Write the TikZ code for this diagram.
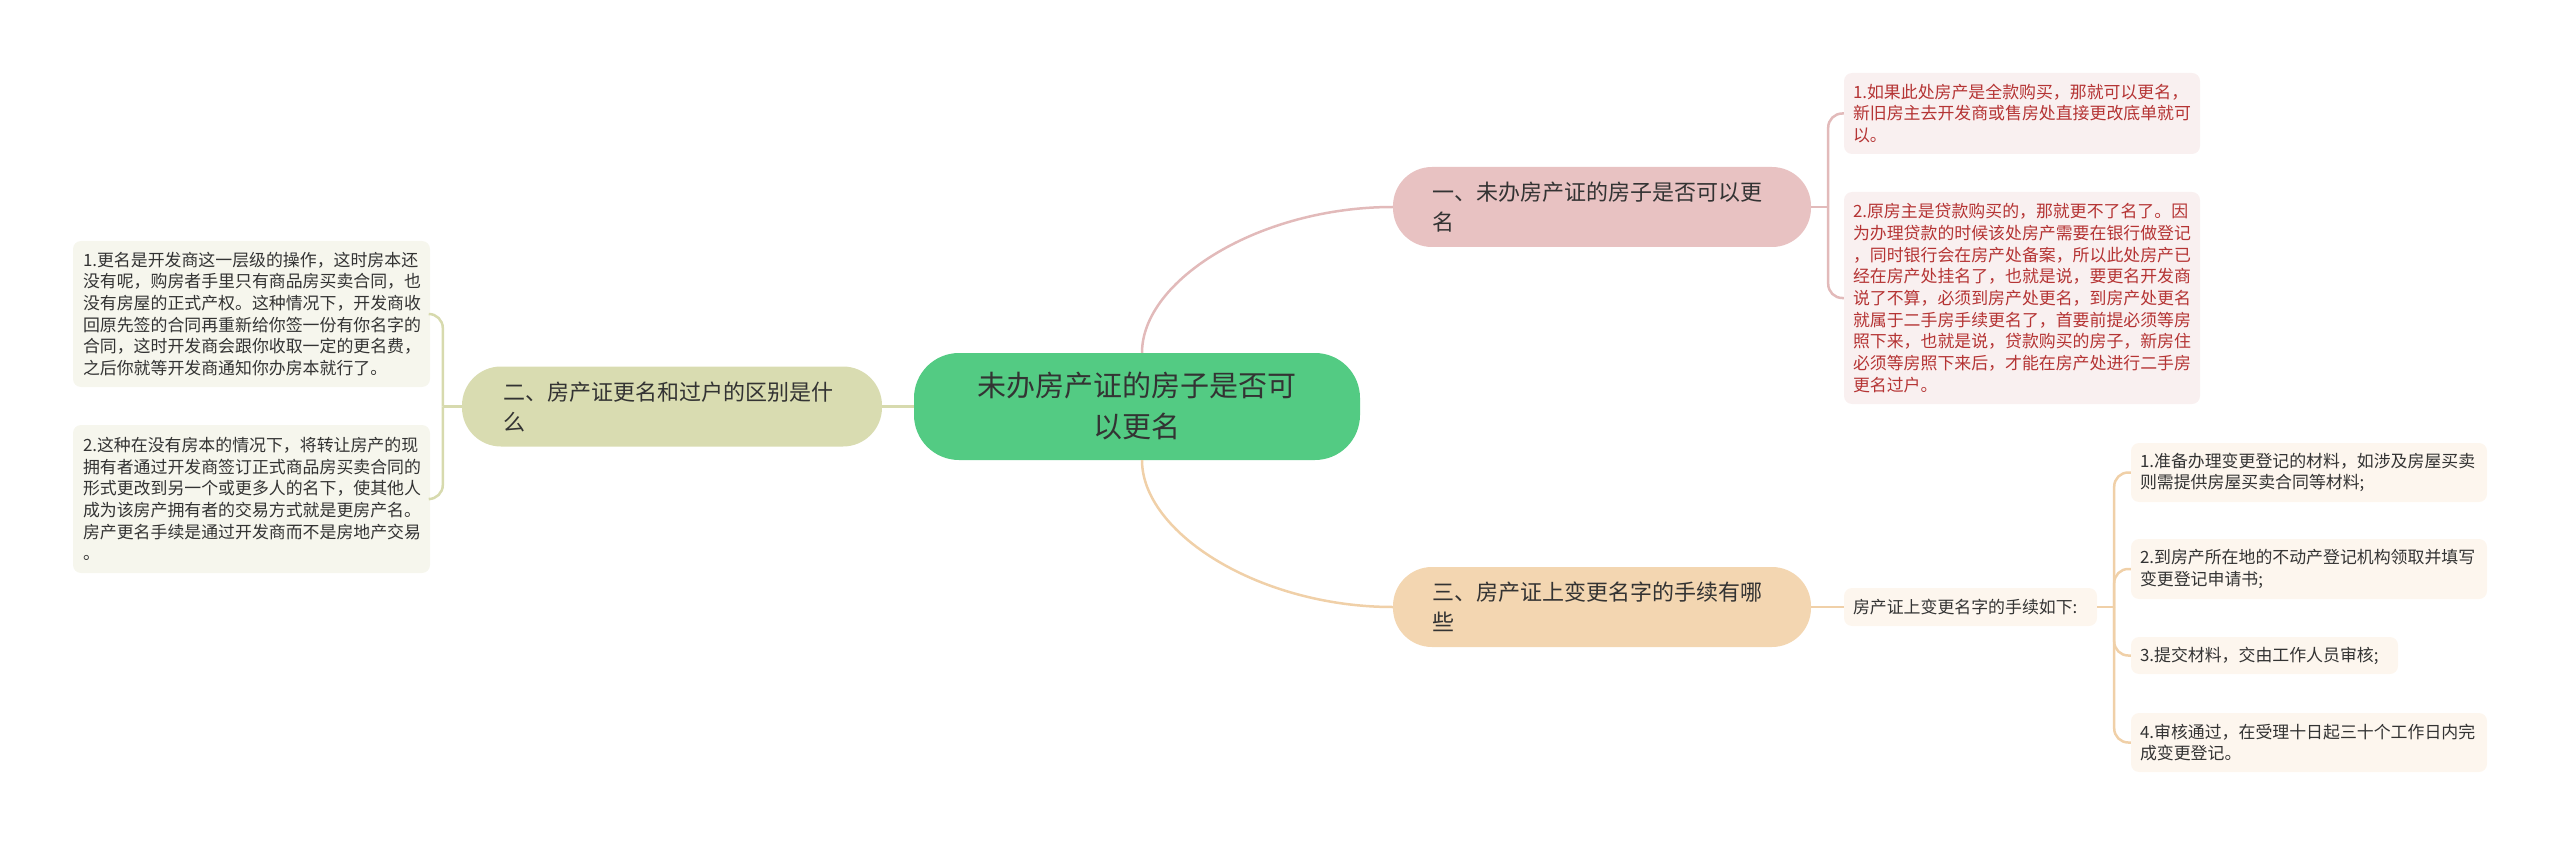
\documentclass[tikz,border=0pt]{standalone}
\usepackage{fontspec}
\newfontfamily\cjk{Noto Sans CJK SC}
\usetikzlibrary{calc}
\definecolor{cgreen}{RGB}{83,203,131}
\definecolor{bonefill}{RGB}{232,194,194}
\definecolor{boneline}{RGB}{226,186,186}
\definecolor{btwofill}{RGB}{217,220,177}
\definecolor{btwoline}{RGB}{215,218,174}
\definecolor{bthreefill}{RGB}{243,214,177}
\definecolor{bthreeline}{RGB}{240,208,168}
\definecolor{lonefill}{RGB}{249,240,240}
\definecolor{lonetext}{RGB}{181,52,52}
\definecolor{ltwofill}{RGB}{246,246,237}
\definecolor{lthreefill}{RGB}{253,246,238}
\definecolor{tdark}{RGB}{51,51,51}
\tikzset{
  central/.style={rectangle, rounded corners=45pt, fill=cgreen, text=tdark, align=center,
    minimum width=446pt, minimum height=107pt, inner sep=0pt,
    font=\cjk\fontsize{29}{41}\selectfont},
  branch/.style={rectangle, rounded corners=39pt, text=tdark, align=left,
    minimum width=418pt, minimum height=80pt, inner xsep=39pt, inner ysep=0pt, text width=340pt,
    font=\cjk\fontsize{22}{30}\selectfont},
  leaf/.style={rectangle, rounded corners=8pt, align=left, inner xsep=9pt, inner ysep=0pt,
    font=\cjk\fontsize{16.9}{21.7}\selectfont},
  conn/.style={line width=2.5pt},
}
\begin{document}
\begin{tikzpicture}[x=1pt,y=-1pt]
\useasboundingbox (0,0) rectangle (2560,845);

% central
\node[central] (c) at (1137,406.5) {未办房产证的房子是否可\\以更名};

% branches
\node[branch, fill=bonefill] (b1) at (1602,207) {一、未办房产证的房子是否可以更\\名};
\node[branch, fill=btwofill, minimum width=420pt, inner xsep=41pt, text width=338pt] (b2) at (672,406.5) {二、房产证更名和过户的区别是什\\么};
\node[branch, fill=bthreefill] (b3) at (1602,607) {三、房产证上变更名字的手续有哪\\些};

% leaves of branch 1
\node[leaf, fill=lonefill, text=lonetext, minimum width=356pt, minimum height=81pt, text width=338pt] (l11) at (2022,113.5)
  {1.如果此处房产是全款购买，那就可以更名，\\新旧房主去开发商或售房处直接更改底单就可\\以。};
\node[leaf, fill=lonefill, text=lonetext, minimum width=356pt, minimum height=212pt, text width=338pt] (l12) at (2022,298)
  {2.原房主是贷款购买的，那就更不了名了。因\\为办理贷款的时候该处房产需要在银行做登记\\，同时银行会在房产处备案，所以此处房产已\\经在房产处挂名了，也就是说，要更名开发商\\说了不算，必须到房产处更名，到房产处更名\\就属于二手房手续更名了，首要前提必须等房\\照下来，也就是说，贷款购买的房子，新房住\\必须等房照下来后，才能在房产处进行二手房\\更名过户。};

% leaves of branch 2
\node[leaf, fill=ltwofill, text=tdark, minimum width=357pt, minimum height=146pt, inner xsep=10pt, text width=337pt] (l21) at (251.5,314)
  {1.更名是开发商这一层级的操作，这时房本还\\没有呢，购房者手里只有商品房买卖合同，也\\没有房屋的正式产权。这种情况下，开发商收\\回原先签的合同再重新给你签一份有你名字的\\合同，这时开发商会跟你收取一定的更名费，\\之后你就等开发商通知你办房本就行了。};
\node[leaf, fill=ltwofill, text=tdark, minimum width=357pt, minimum height=148pt, inner xsep=10pt, text width=337pt] (l22) at (251.5,499)
  {2.这种在没有房本的情况下，将转让房产的现\\拥有者通过开发商签订正式商品房买卖合同的\\形式更改到另一个或更多人的名下，使其他人\\成为该房产拥有者的交易方式就是更房产名。\\房产更名手续是通过开发商而不是房地产交易\\。};

% branch 3 intermediate and leaves
\node[leaf, fill=lthreefill, text=tdark, minimum width=253pt, minimum height=38pt, text width=235pt] (m3) at (1970.5,607)
  {房产证上变更名字的手续如下:};
\node[leaf, fill=lthreefill, text=tdark, minimum width=356pt, minimum height=59pt, text width=338pt] (l31) at (2309,472.5)
  {1.准备办理变更登记的材料，如涉及房屋买卖\\则需提供房屋买卖合同等材料;};
\node[leaf, fill=lthreefill, text=tdark, minimum width=356pt, minimum height=60pt, text width=338pt] (l32) at (2309,569)
  {2.到房产所在地的不动产登记机构领取并填写\\变更登记申请书;};
\node[leaf, fill=lthreefill, text=tdark, minimum width=267pt, minimum height=37pt, text width=249pt] (l33) at (2264.5,655.5)
  {3.提交材料，交由工作人员审核;};
\node[leaf, fill=lthreefill, text=tdark, minimum width=356pt, minimum height=59pt, text width=338pt] (l34) at (2309,742.5)
  {4.审核通过，在受理十日起三十个工作日内完\\成变更登记。};

% connectors from central
\draw[conn, boneline] ([xshift=5pt]c.north) .. controls +(0,-73) and +(-133,0) .. (b1.west);
\draw[conn, bthreeline] ([xshift=5pt]c.south) .. controls +(0,73) and +(-133,0) .. (b3.west);
\draw[conn, btwoline] (c.west) -- (b2.east);

% branch 1 bracket
\coordinate (k1) at ($(b1.east)+(17,0)$);
\draw[conn, boneline] (b1.east) -- (k1);
\draw[conn, boneline, rounded corners=14pt] (k1) |- (l11.west);
\draw[conn, boneline, rounded corners=14pt] (k1) |- (l12.west);

% branch 2 bracket
\coordinate (k2) at ($(b2.west)+(-19,0)$);
\draw[conn, btwoline] (b2.west) -- (k2);
\draw[conn, btwoline, rounded corners=14pt] (k2) |- (l21.east);
\draw[conn, btwoline, rounded corners=14pt] (k2) |- (l22.east);

% branch 3
\draw[conn, bthreeline] (b3.east) -- (m3.west);
\coordinate (k3) at ($(m3.east)+(17,0)$);
\draw[conn, bthreeline] (m3.east) -- (k3);
\draw[conn, bthreeline, rounded corners=14pt] (k3) |- (l31.west);
\draw[conn, bthreeline, rounded corners=14pt] (k3) |- (l32.west);
\draw[conn, bthreeline, rounded corners=14pt] (k3) |- (l33.west);
\draw[conn, bthreeline, rounded corners=14pt] (k3) |- (l34.west);
\end{tikzpicture}
\end{document}
